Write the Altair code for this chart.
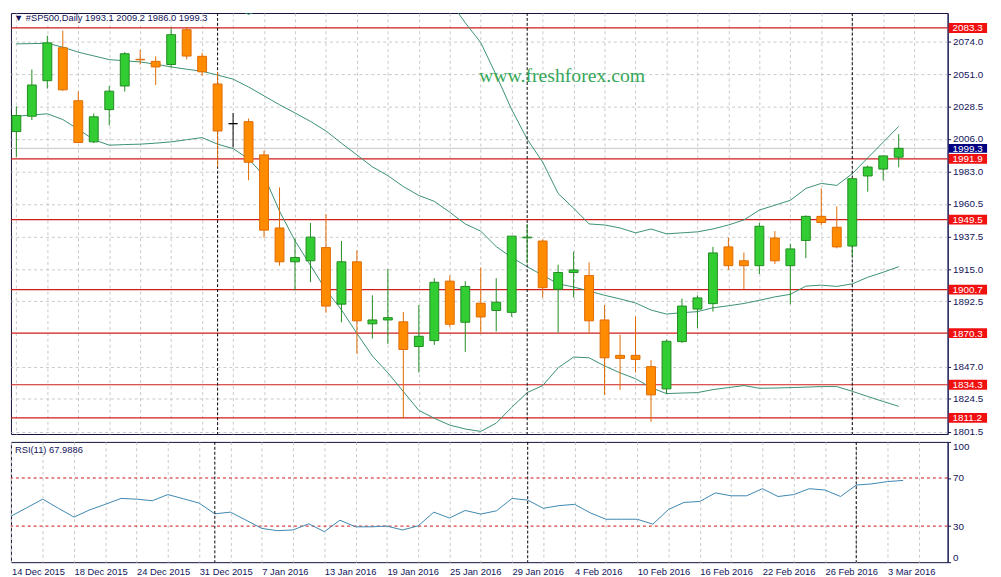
import altair as alt
import pandas as pd

# ---------------- data ----------------
dates = ["14 Dec 2015", "15 Dec 2015", "16 Dec 2015", "17 Dec 2015", "18 Dec 2015",
         "21 Dec 2015", "22 Dec 2015", "23 Dec 2015", "24 Dec 2015", "28 Dec 2015",
         "29 Dec 2015", "30 Dec 2015", "31 Dec 2015", "4 Jan 2016", "5 Jan 2016",
         "6 Jan 2016", "7 Jan 2016", "8 Jan 2016", "11 Jan 2016", "12 Jan 2016",
         "13 Jan 2016", "14 Jan 2016", "15 Jan 2016", "18 Jan 2016", "19 Jan 2016",
         "20 Jan 2016", "21 Jan 2016", "22 Jan 2016", "25 Jan 2016", "26 Jan 2016",
         "27 Jan 2016", "28 Jan 2016", "29 Jan 2016", "1 Feb 2016", "2 Feb 2016",
         "3 Feb 2016", "4 Feb 2016", "5 Feb 2016", "8 Feb 2016", "9 Feb 2016",
         "10 Feb 2016", "11 Feb 2016", "12 Feb 2016", "15 Feb 2016", "16 Feb 2016",
         "17 Feb 2016", "18 Feb 2016", "19 Feb 2016", "22 Feb 2016", "23 Feb 2016",
         "24 Feb 2016", "25 Feb 2016", "26 Feb 2016", "29 Feb 2016", "1 Mar 2016",
         "2 Mar 2016", "3 Mar 2016", "4 Mar 2016"]

opens = [2011.0, 2021.7, 2046.5, 2069.5, 2032.5, 2003.8, 2026.3, 2042.8, 2061.4, 2060.0,
         2057.8, 2082.1, 2063.5, 2044.2, 2016.5, 2017.9, 1994.7, 1943.7, 1920.1, 1920.8,
         1930.0, 1890.5, 1920.1, 1876.8, 1879.5, 1878.2, 1861.0, 1865.1, 1906.6, 1877.9,
         1891.2, 1886.1, 1884.8, 1936.8, 1934.6, 1900.9, 1912.6, 1910.5, 1879.5, 1854.8,
         1854.8, 1846.9, 1831.4, 1864.4, 1887.1, 1890.9, 1930.5, 1920.8, 1917.4, 1936.7,
         1917.4, 1935.0, 1951.8, 1944.2, 1931.1, 1980.0, 1984.8, 1993.1]
highs = [2028.6, 2054.3, 2077.9, 2081.4, 2038.9, 2023.6, 2042.8, 2066.4, 2068.1, 2063.5,
         2083.2, 2083.6, 2066.0, 2052.7, 2024.0, 2020.1, 1997.6, 1972.0, 1936.4, 1947.2,
         1953.4, 1934.6, 1928.1, 1896.7, 1915.0, 1885.1, 1889.9, 1908.7, 1910.5, 1906.6,
         1916.1, 1908.7, 1938.0, 1946.5, 1935.7, 1918.1, 1927.2, 1919.6, 1889.9, 1869.2,
         1881.8, 1851.5, 1865.8, 1894.4, 1896.7, 1930.5, 1936.9, 1926.5, 1947.2, 1941.5,
         1932.7, 1952.5, 1971.3, 1958.7, 1978.5, 1987.3, 1994.2, 2009.2]
lows = [1993.3, 2019.0, 2041.0, 2039.4, 2003.0, 2003.0, 2015.3, 2038.9, 2057.8, 2043.5,
        2055.7, 2061.4, 2049.9, 1986.2, 1999.9, 1977.0, 1936.9, 1917.4, 1900.2, 1905.9,
        1884.6, 1877.9, 1855.9, 1866.5, 1862.8, 1810.7, 1842.8, 1862.1, 1874.5, 1857.2,
        1870.8, 1871.5, 1881.7, 1919.0, 1895.1, 1870.8, 1895.1, 1870.8, 1827.3, 1830.7,
        1842.8, 1808.4, 1827.9, 1863.5, 1873.8, 1885.3, 1914.6, 1900.9, 1911.6, 1918.5,
        1890.5, 1922.6, 1945.6, 1929.5, 1923.6, 1969.0, 1977.0, 1986.0]
closes = [2022.2, 2043.5, 2072.9, 2040.1, 2003.4, 2021.3, 2039.2, 2065.3, 2061.1, 2056.1,
          2078.6, 2063.7, 2052.7, 2011.4, 2016.5, 1989.6, 1942.2, 1920.1, 1923.1, 1937.3,
          1889.2, 1920.1, 1878.9, 1879.5, 1881.1, 1858.9, 1868.1, 1905.8, 1876.5, 1902.9,
          1881.6, 1891.9, 1938.0, 1937.3, 1902.0, 1912.6, 1914.4, 1878.9, 1853.1, 1852.7,
          1852.0, 1827.2, 1864.6, 1889.2, 1894.9, 1926.3, 1917.4, 1917.4, 1944.9, 1920.8,
          1929.1, 1951.8, 1947.5, 1930.5, 1978.1, 1986.2, 1994.0, 1999.3]

bb_upper = [2122.7, 2122.3, 2121.8, 2120.4, 2120.2, 2122.3, 2120.9, 2118.9, 2117.0, 2113.1,
            2108.4, 2103.7, 2099.4, 2098.6, 2097.5, 2092.8, 2097.0, 2104.0, 2113.0, 2118.6,
            2122.4, 2119.2, 2119.3, 2118.5, 2117.8, 2115.7, 2116.4, 2113.7, 2102.0, 2086.9,
            2073.1, 2050.4, 2026.3, 2005.7, 1989.7, 1967.8, 1957.5, 1946.5, 1945.8, 1943.7,
            1940.3, 1943.0, 1939.6, 1940.3, 1941.0, 1943.0, 1945.8, 1949.3, 1956.2, 1959.6,
            1963.0, 1971.3, 1974.8, 1973.4, 1981.6, 1992.6, 2003.6, 2014.6]
bb_middle = [2072.2, 2072.4, 2072.6, 2069.9, 2066.4, 2063.8, 2061.2, 2060.4, 2059.6, 2058.0,
             2056.1, 2054.5, 2053.1, 2050.4, 2047.6, 2042.1, 2035.9, 2029.7, 2024.0, 2018.1,
             2011.4, 2002.9, 1994.7, 1986.4, 1980.2, 1972.6, 1966.4, 1962.3, 1954.7, 1946.5,
             1941.5, 1930.7, 1923.1, 1916.7, 1910.7, 1904.7, 1902.5, 1899.7, 1896.7, 1894.2,
             1891.4, 1886.4, 1883.6, 1884.6, 1885.3, 1888.0, 1889.4, 1891.0, 1893.2, 1895.6,
             1897.4, 1903.1, 1903.8, 1902.9, 1904.7, 1909.3, 1912.8, 1916.7]
bb_lower = [2021.7, 2022.5, 2023.4, 2019.4, 2012.6, 2005.3, 2001.5, 2001.9, 2002.2, 2002.9,
            2003.8, 2005.3, 2006.8, 2002.2, 1999.1, 1991.9, 1980.2, 1955.4, 1934.8, 1917.6,
            1900.4, 1886.6, 1870.1, 1854.3, 1842.6, 1829.5, 1816.4, 1810.9, 1806.1, 1803.4,
            1801.7, 1807.5, 1818.5, 1828.8, 1833.7, 1846.1, 1853.6, 1853.1, 1847.4, 1842.6,
            1838.5, 1832.3, 1828.1, 1828.5, 1828.8, 1830.9, 1832.3, 1833.7, 1831.8, 1832.0,
            1832.3, 1832.6, 1833.0, 1833.0, 1829.7, 1826.1, 1822.6, 1819.2]

rsi = [38.4, 45.4, 52.4, 44.8, 37.5, 43.5, 48.1, 53.0, 52.4, 51.1,
       56.2, 52.7, 49.1, 40.2, 41.6, 34.9, 28.1, 26.2, 26.8, 31.9,
       25.4, 34.9, 29.4, 29.4, 30.0, 26.8, 30.2, 41.6, 36.7, 43.0,
       40.0, 42.7, 53.0, 51.6, 44.8, 47.0, 48.1, 41.0, 35.7, 35.7,
       35.7, 31.6, 43.8, 49.7, 50.5, 57.6, 55.2, 55.2, 61.1, 54.6,
       56.2, 61.1, 60.0, 54.6, 64.1, 65.1, 67.0, 67.99]

level_prices = [2083.3, 1991.9, 1949.5, 1900.7, 1870.3, 1834.3, 1811.2]
price_ticks = [2074.0, 2051.0, 2028.5, 2006.0, 1983.0, 1960.5, 1937.5, 1915.0,
               1892.5, 1847.0, 1824.5, 1801.5]
last_price = [1999.3]
separator_idx = [13, 33, 54]
rsi_levels = [70, 30]
rsi_ticks = [0, 30, 70, 100]
header = "▼  #SP500,Daily  1993.1 2009.2 1986.0 1999.3"
rsi_header = "RSI(11) 67.9886"
watermark = "www.freshforex.com"

# ---------------- layout / style ----------------
W, H1, H2 = 950, 427, 122
XDOM = [-0.031, 59.844]
PDOM = [1799.9, 2093.75]
NAVY = "#14145a"
GRID = "#c8c8c8"
FONT = "Liberation Sans"
FS = 9.5
FSY = 10

n = len(dates)
idx = list(range(n))
dirs = ["up" if c > o else ("down" if c < o else "flat") for o, c in zip(opens, closes)]
candles = pd.DataFrame({"i": idx, "date": dates, "open": opens, "high": highs,
                        "low": lows, "close": closes, "dir": dirs})
bands = pd.DataFrame({"i": idx * 3,
                      "band": ["upper"] * n + ["middle"] * n + ["lower"] * n,
                      "value": bb_upper + bb_middle + bb_lower})
levels = pd.DataFrame({"price": level_prices, "label": [f"{p:.1f}" for p in level_prices]})
bid = pd.DataFrame({"price": last_price, "label": [f"{p:.1f}" for p in last_price]})
seps = pd.DataFrame({"i": separator_idx})
rsi_df = pd.DataFrame({"i": idx, "rsi": rsi})
rsi_lv_df = pd.DataFrame({"rsi": rsi_levels})

xs = alt.Scale(domain=XDOM, nice=False, zero=False)
ps = alt.Scale(domain=PDOM, nice=False, zero=False)
rs = alt.Scale(domain=[0, 100], nice=False, zero=False)

grid_vals = list(range(0, 60, 2))
x_top_axis = alt.Axis(values=grid_vals, labels=False, ticks=False, domain=False, grid=True,
                      gridDash=[3, 3], gridColor=GRID, title=None, zindex=0)
X_top = alt.X("i:Q", scale=xs, axis=x_top_axis)

label_arr = "[" + ",".join("'" + d + "'" for d in dates) + "]"
x_bot_axis = alt.Axis(values=grid_vals,
                      labelExpr=f"(datum.value % 4 == 0 && datum.value < {n}) ? {label_arr}[datum.value] : ''",
                      grid=True, gridDash=[3, 3], gridColor=GRID, domain=False, ticks=False,
                      labelAlign="left", labelPadding=4, labelFont=FONT, labelFontSize=FS,
                      labelColor=NAVY, labelOverlap=False, title=None, zindex=0)
X_bot = alt.X("i:Q", scale=xs, axis=x_bot_axis)

p_axis = alt.Axis(orient="right", values=price_ticks, format=".1f", grid=True, gridDash=[3, 3],
                  gridColor=GRID, domain=True, domainColor=NAVY, ticks=True, tickSize=3,
                  tickColor=NAVY, labelFont=FONT, labelFontSize=FSY, labelColor=NAVY,
                  labelPadding=2, labelOverlap=False, title=None, zindex=0)
rsi_axis = alt.Axis(orient="right", values=rsi_ticks, grid=False, domain=True, domainColor=NAVY,
                    ticks=True, tickSize=3, tickColor=NAVY, labelFlush=True, labelFont=FONT,
                    labelFontSize=FSY, labelColor=NAVY, labelPadding=2, labelOverlap=False,
                    title=None, zindex=0)


def PY(field):
    return alt.Y(f"{field}:Q", scale=ps, axis=p_axis)


dir_dom = ["up", "down", "flat"]
fill_sc = alt.Scale(domain=dir_dom, range=["#32cd32", "#ff8c00", "#000000"])
stroke_sc = alt.Scale(domain=dir_dom, range=["#228b22", "#e06a00", "#000000"])

level_lines = alt.Chart(levels).mark_rule(color="#d01c1c", strokeWidth=1.2).encode(y=PY("price"))
bid_line = alt.Chart(bid).mark_rule(color="#c4c4c4", strokeWidth=1).encode(y=PY("price"))
band_lines = alt.Chart(bands).mark_line(clip=True, strokeWidth=1, color="#3a9070").encode(
    x=X_top, y=PY("value"), detail="band:N")
sep_top = alt.Chart(seps).mark_rule(color="#000000", strokeDash=[3, 2], strokeWidth=1).encode(x=X_top)
wicks = alt.Chart(candles).mark_rule(clip=True, strokeWidth=1).encode(
    x=X_top, y=PY("low"), y2="high",
    color=alt.Color("dir:N", scale=stroke_sc, legend=None))
bodies = alt.Chart(candles).mark_bar(width=9, clip=True, strokeWidth=1).encode(
    x=X_top, y=PY("open"), y2="close",
    fill=alt.Fill("dir:N", scale=fill_sc, legend=None),
    stroke=alt.Stroke("dir:N", scale=stroke_sc, legend=None))
hdr = alt.Chart(pd.DataFrame({"t": [header]})).mark_text(
    align="left", baseline="alphabetic", font=FONT, fontSize=9.5, color=NAVY).encode(
    text="t:N", x=alt.value(3), y=alt.value(8))
wm = alt.Chart(pd.DataFrame({"t": [watermark]})).mark_text(
    align="center", baseline="alphabetic", font="Liberation Serif", fontSize=20,
    color="#38a85a").encode(text="t:N", x=alt.value(559), y=alt.value(70))
level_boxes = alt.Chart(levels).mark_rule(color="#f01010", strokeWidth=10).encode(
    y=PY("price"), x=alt.value(W + 1), x2=alt.value(W + 40))
level_text = alt.Chart(levels).mark_text(
    align="left", baseline="middle", font=FONT, fontSize=FSY, color="white", dy=0.5).encode(
    y=PY("price"), x=alt.value(W + 5), text="label:N")
bid_box = alt.Chart(bid).mark_rule(color="#000080", strokeWidth=9).encode(
    y=PY("price"), x=alt.value(W + 1), x2=alt.value(W + 40))
bid_text = alt.Chart(bid).mark_text(
    align="left", baseline="middle", font=FONT, fontSize=FSY, color="white", dy=0.5).encode(
    y=PY("price"), x=alt.value(W + 5), text="label:N")

top = alt.layer(level_lines, bid_line, band_lines, sep_top, wicks, bodies, hdr, wm,
                level_boxes, level_text, bid_box, bid_text).properties(width=W, height=H1)

rsi_lv = alt.Chart(rsi_lv_df).mark_rule(color="#cc1010", strokeDash=[3, 3], strokeWidth=1).encode(
    y=alt.Y("rsi:Q", scale=rs, axis=rsi_axis))
rsi_line = alt.Chart(rsi_df).mark_line(color="#3c86b0", strokeWidth=1).encode(
    x=X_bot, y=alt.Y("rsi:Q", scale=rs, axis=rsi_axis))
sep_bot = alt.Chart(seps).mark_rule(color="#000000", strokeDash=[3, 2], strokeWidth=1).encode(x=X_bot)
rsi_hdr = alt.Chart(pd.DataFrame({"t": [rsi_header]})).mark_text(
    align="left", baseline="alphabetic", font=FONT, fontSize=FS, color=NAVY).encode(
    text="t:N", x=alt.value(4), y=alt.value(11))

bottom = alt.layer(rsi_lv, rsi_line, sep_bot, rsi_hdr).properties(width=W, height=H2)

chart = alt.vconcat(top, bottom, spacing=3).properties(
    padding=0, background="white").configure_view(stroke="#10103a", strokeWidth=1)

chart.save("out.html", embed_options={"renderer": "svg", "actions": False})
